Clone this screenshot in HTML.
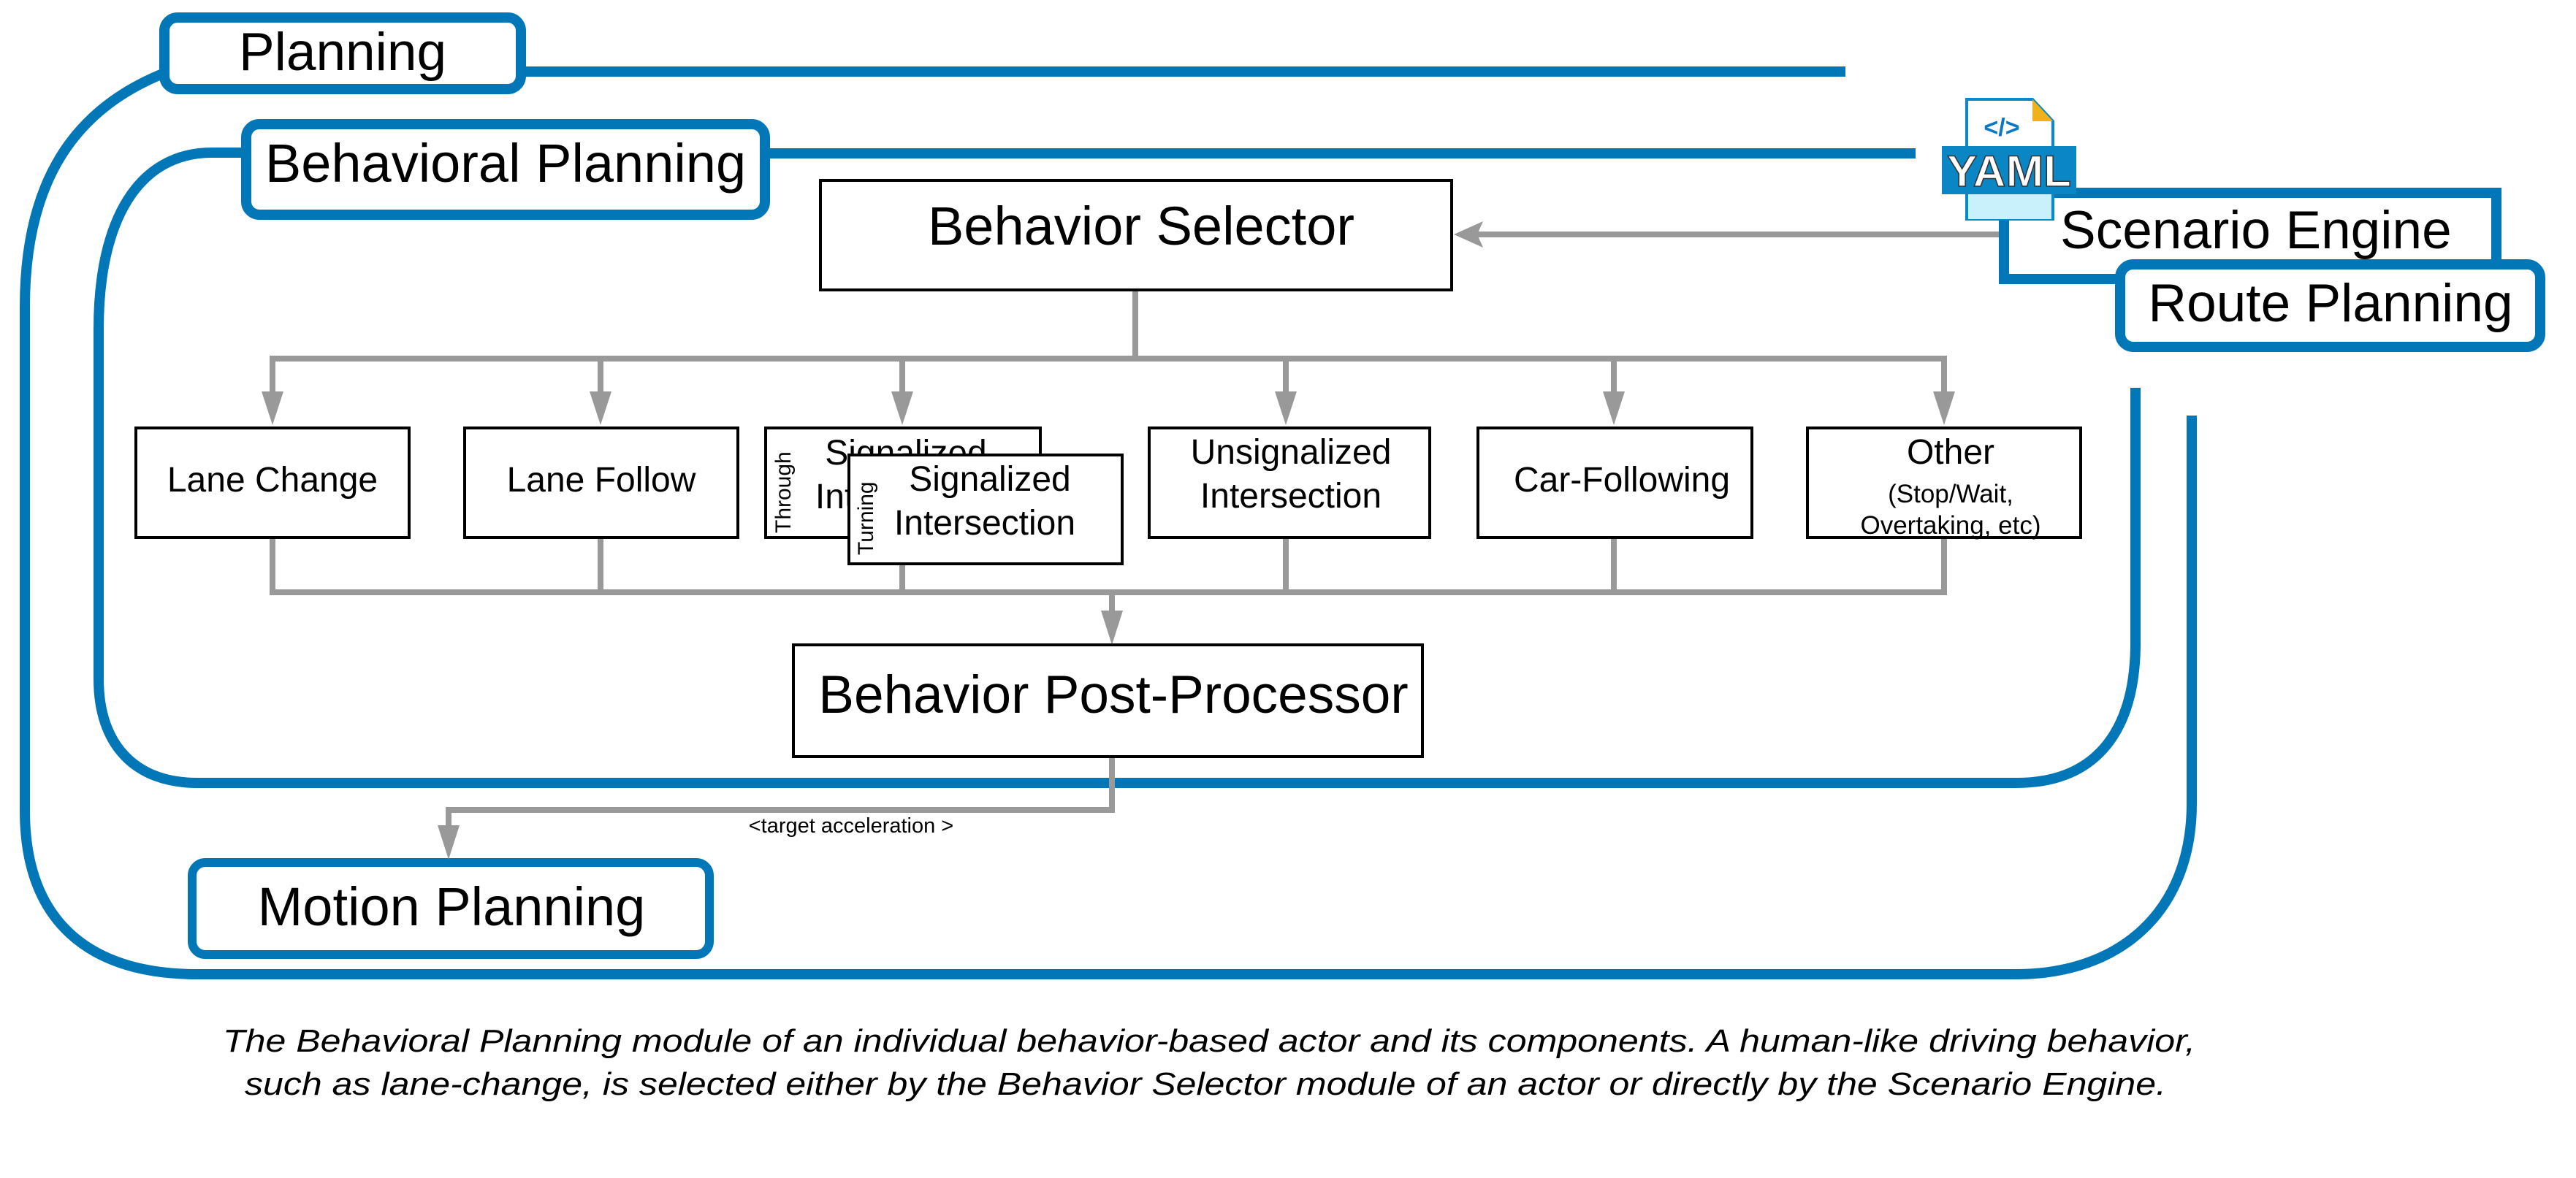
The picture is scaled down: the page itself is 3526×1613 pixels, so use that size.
<!DOCTYPE html>
<html><head><meta charset="utf-8"><style>
html,body{margin:0;padding:0;background:#fff;}
svg{display:block;}
text{font-family:"Liberation Sans",sans-serif;fill:#000;}
</style></head><body>
<svg width="3526" height="1613" viewBox="0 0 3526 1613" xmlns="http://www.w3.org/2000/svg">
<g fill="none" stroke="#0277b8" stroke-width="14">
  <path d="M 225 100 C 100 150, 34 250, 34 420 L 34 1110 C 34 1260, 120 1334, 270 1334 L 2760 1334 C 2900 1334, 3000 1250, 3000 1100 L 3000 569"/>
  <path d="M 335 209 L 290 209 C 190 209, 135 300, 135 450 L 135 930 C 135 1020, 185 1072, 270 1072 L 2760 1072 C 2870 1072, 2923 1000, 2923 880 L 2923 531"/>
  <line x1="716" y1="98" x2="2526" y2="98"/>
  <line x1="1050" y1="210" x2="2622" y2="210"/>
</g>
<rect x="225" y="24" width="488" height="98" rx="18" fill="#fff" stroke="#0277b8" stroke-width="14"/>
<text x="469" y="96" font-size="73" text-anchor="middle">Planning</text>
<rect x="337" y="170" width="710" height="124" rx="18" fill="#fff" stroke="#0277b8" stroke-width="14"/>
<text x="692" y="249" font-size="74" text-anchor="middle">Behavioral Planning</text>
<rect x="263" y="1181" width="708" height="126" rx="18" fill="#fff" stroke="#0277b8" stroke-width="12"/>
<text x="618" y="1267" font-size="74" text-anchor="middle">Motion  Planning</text>

<rect x="2743" y="264" width="674" height="118" fill="#fff" stroke="#0277b8" stroke-width="14"/>
<text x="2820" y="340" font-size="73">Scenario Engine</text>
<rect x="2902" y="362" width="575" height="113" rx="18" fill="#fff" stroke="#0277b8" stroke-width="14"/>
<text x="3190" y="440" font-size="73" text-anchor="middle">Route Planning</text>

<path d="M 2692 136 L 2782 136 L 2810 166 L 2810 300 L 2692 300 Z" fill="#fff" stroke="#0a8ac4" stroke-width="4"/>
<path d="M 2782 136 L 2810 166 L 2782 166 Z" fill="#f0b21a"/>
<rect x="2694" y="266" width="114" height="34" fill="#c9f1fb"/>
<text x="2740" y="186" font-size="34" font-weight="bold" text-anchor="middle" style="fill:#0a78c2">&lt;/&gt;</text>
<rect x="2658" y="200" width="184" height="66" fill="#0a86c4"/>
<text x="2750" y="255" font-size="60" font-weight="bold" text-anchor="middle" style="fill:#fff;stroke:#333;stroke-width:1.5" textLength="170" lengthAdjust="spacingAndGlyphs">YAML</text>

<g stroke="#999" stroke-width="8" fill="none">
  <line x1="2736" y1="321" x2="2020" y2="321"/>
  <line x1="1554" y1="397" x2="1554" y2="491"/>
  <polyline points="373,540 373,491 2661,491 2661,540"/>
  <line x1="822" y1="491" x2="822" y2="540"/>
  <line x1="1235" y1="491" x2="1235" y2="540"/>
  <line x1="1760" y1="491" x2="1760" y2="540"/>
  <line x1="2209" y1="491" x2="2209" y2="540"/>
  <polyline points="373,736 373,811 2661,811 2661,736"/>
  <line x1="822" y1="736" x2="822" y2="811"/>
  <line x1="1235" y1="772" x2="1235" y2="811"/>
  <line x1="1760" y1="736" x2="1760" y2="811"/>
  <line x1="2209" y1="736" x2="2209" y2="811"/>
  <line x1="1522" y1="811" x2="1522" y2="840"/>
  <polyline points="1522,1036 1522,1109 614,1109 614,1135"/>
</g>
<g fill="#999">
  <polygon points="1990,321 2030,303 2022,321 2030,339"/>
  <polygon points="358,536 388,536 373,582 "/>
  <polygon points="807,536 837,536 822,582"/>
  <polygon points="1220,536 1250,536 1235,582"/>
  <polygon points="1745,536 1775,536 1760,582"/>
  <polygon points="2194,536 2224,536 2209,582"/>
  <polygon points="2646,536 2676,536 2661,582"/>
  <polygon points="1507,836 1537,836 1522,883"/>
  <polygon points="599,1130 629,1130 614,1177"/>
</g>

<g fill="#fff" stroke="#000" stroke-width="4">
  <rect x="1123" y="247" width="864" height="150"/>
  <rect x="1086" y="883" width="861" height="153"/>
  <rect x="186" y="586" width="374" height="150"/>
  <rect x="636" y="586" width="374" height="150"/>
  <rect x="1048" y="586" width="376" height="150"/>
  <rect x="1573" y="586" width="384" height="150"/>
  <rect x="2023" y="586" width="375" height="150"/>
  <rect x="2474" y="586" width="374" height="150"/>
</g>
<text x="1562" y="335" font-size="74" text-anchor="middle">Behavior Selector</text>
<text x="1524" y="976" font-size="73" text-anchor="middle">Behavior Post-Processor</text>
<text x="373" y="673" font-size="48" text-anchor="middle">Lane Change</text>
<text x="823" y="673" font-size="48" text-anchor="middle">Lane Follow</text>
<text x="1240" y="636" font-size="48" text-anchor="middle">Signalized</text>
<text x="1240" y="696" font-size="48" text-anchor="middle">Intersection</text>
<text transform="translate(1082,730) rotate(-90)" font-size="30">Through</text>
<rect x="1162" y="623" width="374" height="149" fill="#fff" stroke="#000" stroke-width="4"/>
<text transform="translate(1195,760) rotate(-90)" font-size="30">Turning</text>
<text x="1355" y="672" font-size="48" text-anchor="middle">Signalized</text>
<text x="1348" y="732" font-size="48" text-anchor="middle">Intersection</text>
<text x="1767" y="635" font-size="48" text-anchor="middle">Unsignalized</text>
<text x="1767" y="695" font-size="48" text-anchor="middle">Intersection</text>
<text x="2220" y="673" font-size="48" text-anchor="middle">Car-Following</text>
<text x="2670" y="635" font-size="48" text-anchor="middle">Other</text>
<text x="2670" y="688" font-size="35" text-anchor="middle">(Stop/Wait,</text>
<text x="2670" y="731" font-size="35" text-anchor="middle">Overtaking, etc)</text>

<text x="1165" y="1140" font-size="29" text-anchor="middle">&lt;target acceleration &gt;</text>

<text x="1655" y="1440" font-size="44" font-style="italic" text-anchor="middle" textLength="2700" lengthAdjust="spacingAndGlyphs">The Behavioral Planning module of an individual behavior-based actor and its components. A human-like driving behavior,</text>
<text x="1650" y="1499" font-size="44" font-style="italic" text-anchor="middle" textLength="2630" lengthAdjust="spacingAndGlyphs">such as lane-change, is selected either by the Behavior Selector module of an actor or directly by the Scenario Engine.</text>
</svg>
</body></html>
